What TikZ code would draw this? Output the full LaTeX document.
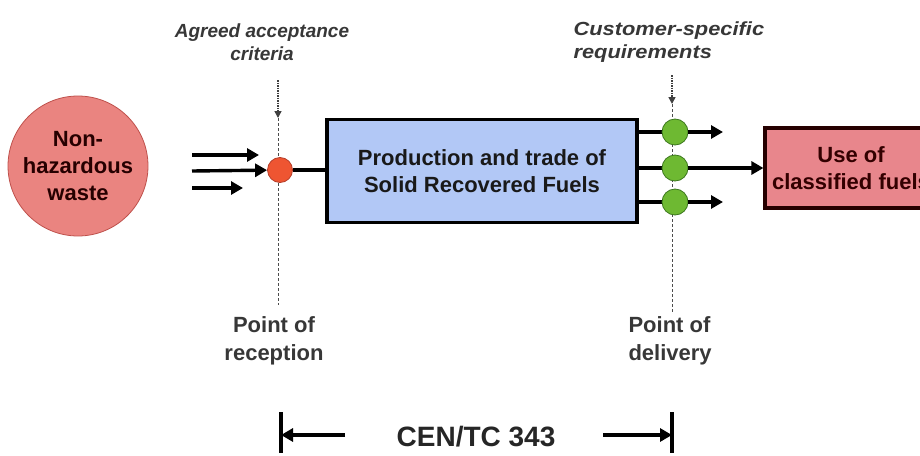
\documentclass[tikz,border=0pt]{standalone}
\usepackage{fontspec}
\setmainfont{Liberation Sans}
\usetikzlibrary{arrows.meta}
\definecolor{wastefill}{RGB}{234,132,128}
\definecolor{wasteline}{RGB}{190,80,75}
\definecolor{procfill}{RGB}{178,200,246}
\definecolor{usefill}{RGB}{232,134,140}
\definecolor{redpt}{RGB}{238,85,50}
\definecolor{redptline}{RGB}{180,60,40}
\definecolor{greenpt}{RGB}{110,185,50}
\definecolor{greenptline}{RGB}{60,120,30}
\definecolor{labelgray}{RGB}{55,55,55}
\tikzset{
  every node/.style={font=\bfseries, text=black!90},
  flow/.style={line width=3.4pt, -{Triangle[length=12pt,width=13pt]}},
  link/.style={line width=3.4pt},
  guide/.style={line width=0.7pt, dash pattern=on 3pt off 2pt, black!70},
  hint/.style={line width=1.5pt, densely dotted, black!75, -{Triangle[length=7pt,width=7pt]}},
  ctrl/.style={circle, minimum size=26pt, inner sep=0pt},
  remark/.style={font=\bfseries\itshape\fontsize{19}{23}\selectfont, text=labelgray, align=center},
  pointlbl/.style={font=\bfseries\fontsize{22}{28}\selectfont, text=labelgray},
  boxtext/.style={font=\bfseries\fontsize{22}{27}\selectfont, align=center},
}
\begin{document}
\begin{tikzpicture}[x=1pt,y=-1pt]
\useasboundingbox (0,0) rectangle (920,455);
\clip (0,0) rectangle (920,455);

% source, process and consumer
\node[circle, minimum size=140pt, fill=wastefill, draw=wasteline, line width=0.8pt,
      boxtext, text=black!85!red] (waste) at (78,166) {Non-\\hazardous\\waste};
\node[rectangle, minimum width=310pt, minimum height=103pt, fill=procfill, draw=black,
      line width=3.2pt, boxtext] (prod) at (482,171) {Production and trade of\\Solid Recovered Fuels};
\node[rectangle, minimum width=172pt, minimum height=80pt, fill=usefill, draw=black!85!red,
      line width=3.2pt, boxtext, text=black!80!red] (use) at (851,168) {Use of\\classified fuels};

% checkpoint lines
\coordinate (recTop) at (278,80);
\coordinate (recHint) at (278,118);
\coordinate (recBot) at (278,305);
\coordinate (delTop) at (672,75);
\coordinate (delHint) at (672,104);
\coordinate (delBot) at (672,312);
\draw[guide] (recHint) -- (recBot);
\draw[guide] (delHint) -- (delBot);
\draw[hint] (recTop) -- (recHint);
\draw[hint] (delTop) -- (delHint);

% point of reception
\node[ctrl, minimum size=25pt, fill=redpt, draw=redptline, line width=0.8pt] (rec) at (280,170) {};
\coordinate (inA0) at (192,155); \coordinate (inA1) at (259,155);
\coordinate (inB0) at (192,171);
\coordinate (inC0) at (192,188); \coordinate (inC1) at (243,188);
\draw[flow] (inA0) -- (inA1);
\draw[flow] (inB0) -- (rec);
\draw[flow] (inC0) -- (inC1);
\draw[link] (rec) -- (prod.west |- rec);

% point of delivery
\draw[link] (prod.east |- 0,132) -- (672,132);
\draw[link] (prod.east |- 0,168) -- (672,168);
\draw[link] (prod.east |- 0,202) -- (672,202);
\node[ctrl, fill=greenpt, draw=greenptline, line width=0.8pt] (outA) at (675,132) {};
\node[ctrl, fill=greenpt, draw=greenptline, line width=0.8pt] (outB) at (675,168) {};
\node[ctrl, fill=greenpt, draw=greenptline, line width=0.8pt] (outC) at (675,202) {};
\coordinate (outA1) at (723,132);
\coordinate (outC1) at (723,202);
\draw[flow] (outA) -- (outA1);
\draw[flow] (outB) -- (use.west |- outB);
\draw[flow] (outC) -- (outC1);

% labels
\node[remark] (acc) at (262,42) {Agreed acceptance\\criteria};
\node[remark, align=left, anchor=west] (cust) at (570,42)
  {\scalebox{1.15}[1]{Customer-specific}\\\scalebox{1.15}[1]{requirements}};
\node[pointlbl, align=center] (recl) at (274,341) {Point of\\reception};
\node[pointlbl, align=left, anchor=west] (dell) at (625,341) {Point of\\delivery};

% scope of the committee
\coordinate (barL0) at (281,412); \coordinate (barL1) at (281,453);
\coordinate (barR0) at (672,412); \coordinate (barR1) at (672,453);
\draw[line width=3.4pt] (barL0) -- (barL1);
\draw[line width=3.4pt] (barR0) -- (barR1);
\node[font=\bfseries\fontsize{28}{32}\selectfont, text=black!85] (cen) at (476,437) {CEN/TC 343};
\coordinate (arL) at (345,435);
\coordinate (arR) at (603,435);
\draw[flow] (arL) -- (barL0 |- arL);
\draw[flow] (arR) -- (barR0 |- arR);
\end{tikzpicture}
\end{document}
